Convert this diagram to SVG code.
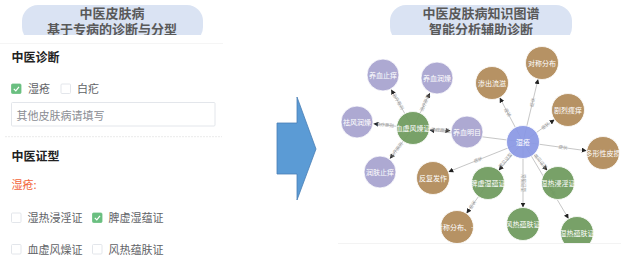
<svg xmlns="http://www.w3.org/2000/svg" width="621" height="266" viewBox="0 0 621 266">
<style>
text{font-family:"Noto Sans CJK SC","Noto Sans",sans-serif}
.title{font-size:13px;font-weight:bold;fill:#595959;text-anchor:middle}
.h{font-size:12px;font-weight:bold;fill:#222}
.lbl{font-size:11px;fill:#606266}
.ph{font-size:11px;fill:#8a8d93}
.red{font-size:11px;fill:#f2643a}
.box{fill:#fff;stroke:#dcdfe6;stroke-width:0.8}
.chk{fill:#6abf80;stroke:#6abf80;stroke-width:0.8}
.tick{fill:none;stroke:#fff;stroke-width:1.2}
.edge{stroke:#a0a0a0;stroke-width:0.6;fill:none}
.arr{marker-end:url(#ah)}
.el{font-size:4.5px;fill:#999;text-anchor:middle}
.n{stroke:#fff;stroke-width:0.8;fill-opacity:0.93}
.p{fill:#a7a3cf}
.g{fill:#6e9a5c}
.b{fill:#b08a58}
.c{fill:#8a98e4}
.nt{font-size:7px;fill:#fff;text-anchor:middle}
</style>
<defs>
<marker id="ah" viewBox="0 0 10 10" refX="10" refY="5" markerWidth="5" markerHeight="5" markerUnits="userSpaceOnUse" orient="auto">
<path d="M0,0 L10,5 L0,10 z" fill="#222"/>
</marker>
<clipPath id="pillclip"><rect x="0" y="0" width="621" height="35"/></clipPath>
<clipPath id="gclip"><rect x="330" y="40" width="291" height="203"/></clipPath>
</defs>

<!-- Left panel -->
<g id="left-title" clip-path="url(#pillclip)">
<rect x="22" y="5" width="181" height="38" rx="16" fill="#dae3f3"/>
<text class="title" x="112" y="17.5">中医皮肤病</text>
<text class="title" x="112" y="34">基于专病的诊断与分型</text>
</g>
<line x1="0" y1="43.5" x2="223" y2="43.5" stroke="#f2f2f2" stroke-width="0.8"/>
<g id="diag">
<text class="h" x="11.5" y="62">中医诊断</text>
<rect class="chk" x="11.5" y="84" width="9.5" height="9.5" rx="1"/>
<path class="tick" d="M13.8,88.8 L15.8,90.8 L19,86.8"/>
<text class="lbl" x="28" y="93">湿疮</text>
<rect class="box" x="61" y="84" width="9.5" height="9.5" rx="1"/>
<text class="lbl" x="77" y="93">白疕</text>
<rect x="11.5" y="102.5" width="203.5" height="23.5" fill="#fff" stroke="#dcdfe6" stroke-width="0.8" rx="1"/>
<text class="ph" x="16.5" y="119.5">其他皮肤病请填写</text>
</g>
<line x1="5" y1="136.7" x2="222" y2="136.7" stroke="#e4e4e4" stroke-width="0.8" stroke-dasharray="2,1"/>
<g id="syndrome">
<text class="h" x="11.5" y="161">中医证型</text>
<text class="red" x="11.5" y="189">湿疮:</text>
<rect class="box" x="11.5" y="213" width="9.5" height="9.5" rx="1"/>
<text class="lbl" x="27.5" y="222">湿热浸淫证</text>
<rect class="chk" x="92.5" y="213" width="9.5" height="9.5" rx="1"/>
<path class="tick" d="M94.8,217.8 L96.8,219.8 L100,215.8"/>
<text class="lbl" x="108.5" y="222">脾虚湿蕴证</text>
<rect class="box" x="11.5" y="244.5" width="9.5" height="9.5" rx="1"/>
<text class="lbl" x="27.5" y="253.5">血虚风燥证</text>
<rect class="box" x="92.5" y="244.5" width="9.5" height="9.5" rx="1"/>
<text class="lbl" x="108.5" y="253.5">风热蕴肤证</text>
</g>

<!-- Big arrow -->
<g id="big-arrow">
<polygon points="277,123 297,123 297,97 316,149 297,200 297,174 277,174" fill="#5b9bd5" stroke="#4a7fb5" stroke-width="0.8"/>
</g>

<!-- Right title -->
<g id="right-title" clip-path="url(#pillclip)">
<rect x="390" y="5" width="182" height="38" rx="16" fill="#dae3f3"/>
<text class="title" x="481" y="17.5">中医皮肤病知识图谱</text>
<text class="title" x="481" y="33.5">智能分析辅助诊断</text>
</g>

<line x1="338" y1="243.5" x2="621" y2="243.5" stroke="#f0f0f0" stroke-width="0.8"/>

<g clip-path="url(#gclip)">
<g id="connectors">
<line class="edge arr" x1="523" y1="142" x2="499.7" y2="97.6"/>
<line class="edge arr" x1="523" y1="142" x2="538.1" y2="79"/>
<line class="edge arr" x1="523" y1="142" x2="554.6" y2="119.6"/>
<line class="edge arr" x1="523" y1="142" x2="586.7" y2="150.8"/>
<line class="edge arr" x1="523" y1="142" x2="448.3" y2="171.9"/>
<line class="edge arr" x1="523" y1="142" x2="498.7" y2="170.4"/>
<line class="edge arr" x1="523" y1="142" x2="547.3" y2="170.4"/>
<line class="edge arr" x1="523" y1="142" x2="523" y2="207.5"/>
<line class="edge arr" x1="523" y1="142" x2="568.6" y2="218.8"/>
<line class="edge arr" x1="523" y1="142" x2="429.4" y2="130.1"/>
<line class="edge arr" x1="413" y1="128" x2="391.1" y2="89.4"/>
<line class="edge arr" x1="413" y1="128" x2="429.9" y2="92.9"/>
<line class="edge arr" x1="413" y1="128" x2="373.4" y2="123.8"/>
<line class="edge arr" x1="413" y1="128" x2="450.5" y2="130.8"/>
<line class="edge arr" x1="413" y1="128" x2="389.9" y2="158.8"/>
<line class="edge arr" x1="488" y1="183" x2="466.5" y2="213.5"/>
<text class="el" transform="translate(507.5,112.5) rotate(62.3)" y="1.5">症状</text>
<text class="el" transform="translate(532.5,102.5) rotate(-76.5)" y="1.5">症状</text>
<text class="el" transform="translate(545.5,126) rotate(-35.4)" y="1.5">症状</text>
<text class="el" transform="translate(563,147.5) rotate(7.8)" y="1.5">症状</text>
<text class="el" transform="translate(478,160) rotate(-21.8)" y="1.5">症状</text>
<text class="el" transform="translate(505.5,160.5) rotate(-49.5)" y="1.5">常见证型</text>
<text class="el" transform="translate(540.5,161.5) rotate(49.5)" y="1.5">常见证型</text>
<text class="el" transform="translate(523,183) rotate(90)" y="1.5">常见证型</text>
<text class="el" transform="translate(550,187.5) rotate(59.3)" y="1.5">常见证型</text>
<text class="el" transform="translate(398,101.5) rotate(60.5)" y="1.5">治疗原则</text>
<text class="el" transform="translate(425,103) rotate(-64.4)" y="1.5">治疗原则</text>
<text class="el" transform="translate(385,125) rotate(6.1)" y="1.5">治疗原则</text>
<text class="el" transform="translate(440,130) rotate(4.2)" y="1.5">治疗原则</text>
<text class="el" transform="translate(396.5,150) rotate(-53.1)" y="1.5">治疗原则</text>
<text class="el" transform="translate(472.5,205) rotate(-54.8)" y="1.5">症状</text>
</g>

<g id="n-yxzy"><circle class="n p" cx="383" cy="75" r="16"/><text class="nt" x="383" y="77.5">养血止痒</text></g>
<g id="n-yxrz"><circle class="n p" cx="437" cy="78" r="16"/><text class="nt" x="437" y="80.5">养血润燥</text></g>
<g id="n-qfrz"><circle class="n p" cx="357" cy="122" r="16"/><text class="nt" x="357" y="124.5">祛风润燥</text></g>
<g id="n-yxmm"><circle class="n p" cx="467" cy="132" r="16"/><text class="nt" x="467" y="134.5">养血明目</text></g>
<g id="n-rfzy"><circle class="n p" cx="380" cy="172" r="16"/><text class="nt" x="380" y="174.5">润肤止痒</text></g>
<g id="n-xxfz"><circle class="n g" cx="413" cy="128" r="16.5"/><text class="nt" x="413" y="130.5">血虚风燥证</text></g>
<g id="n-scll"><circle class="n b" cx="492" cy="83" r="16.5"/><text class="nt" x="492" y="85.5">渗出流滋</text></g>
<g id="n-dcfb"><circle class="n b" cx="542" cy="63" r="16.5"/><text class="nt" x="542" y="65.5">对称分布</text></g>
<g id="n-jlsy"><circle class="n b" cx="568" cy="110" r="16.5"/><text class="nt" x="568" y="112.5">剧烈瘙痒</text></g>
<g id="n-dxxps"><circle class="n b" cx="603" cy="153" r="16.5"/><text class="nt" x="603" y="155.5">多形性皮损</text></g>
<g id="n-ffzf"><circle class="n b" cx="433" cy="178" r="16.5"/><text class="nt" x="433" y="180.5">反复发作</text></g>
<g id="n-dcfb2"><circle class="n b" cx="457" cy="227" r="16.5"/><text class="nt" x="457" y="229.5">对称分布、…</text></g>
<g id="n-sc"><circle class="n c" cx="523" cy="142" r="16.5"/><text class="nt" x="523" y="144.5">湿疮</text></g>
<g id="n-pxsy"><circle class="n g" cx="488" cy="183" r="16.5"/><text class="nt" x="488" y="185.5">脾虚湿蕴证</text></g>
<g id="n-srjy"><circle class="n g" cx="558" cy="183" r="16.5"/><text class="nt" x="558" y="185.5">湿热浸淫证</text></g>
<g id="n-frwf"><circle class="n g" cx="523" cy="224" r="16.5"/><text class="nt" x="523" y="226.5">风热蕴肤证</text></g>
<g id="n-srwf"><circle class="n g" cx="577" cy="233" r="16.5"/><text class="nt" x="577" y="235.5">湿热蕴肤证</text></g>
</g>
</svg>
